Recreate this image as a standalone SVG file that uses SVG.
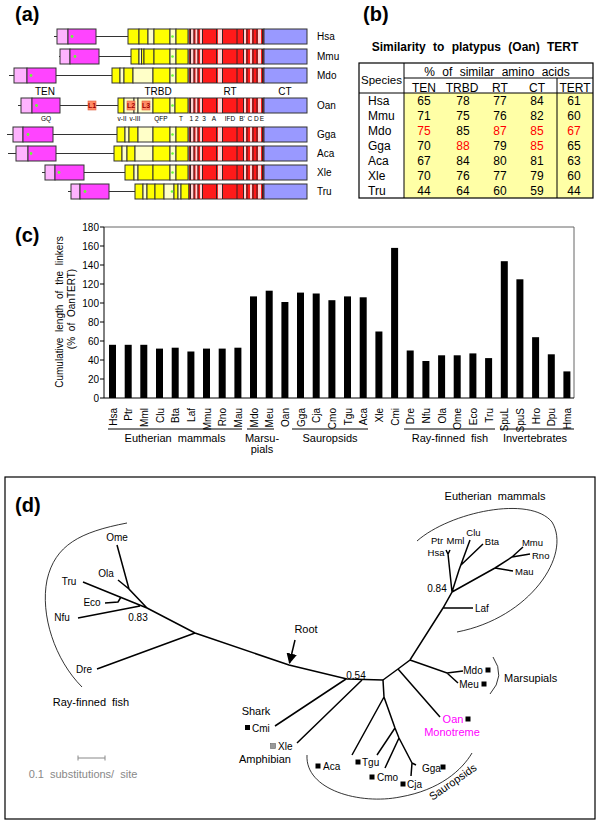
<svg xmlns="http://www.w3.org/2000/svg" xmlns:xlink="http://www.w3.org/1999/xlink" width="600" height="826" viewBox="0 0 600 826">
<style>
text{font-family:"Liberation Sans",Arial,sans-serif;fill:#000}
.pl{font-size:20px;font-weight:bold}
.ln{stroke:#333;stroke-width:1.2;fill:none}
.lp{fill:#ffb3ff;stroke:#333;stroke-width:1}
.mg{fill:#ff44ff;stroke:#333;stroke-width:1}
.gd{fill:#66ff33}
.ye{fill:#ffff00;stroke:#333;stroke-width:1}
.py{fill:#ffffc8;stroke:#333;stroke-width:1}
.bl{fill:#9999ff;stroke:#333;stroke-width:1}
.rl{font-size:10px}
.dl{font-size:10px}
.sl{font-size:6.5px}
.lk{fill:#ff8c66;stroke:#e06040;stroke-width:0.6}
.lkt{font-size:7px;font-weight:bold;fill:#a00000}
.tb{font-size:12px}
.red{fill:#ff0000}
.ax{stroke:#000;stroke-width:1;fill:none}
.fr{stroke:#666;stroke-width:1;fill:none}
.tk{font-size:10px;text-anchor:end}
.xl{font-size:10px;text-anchor:end}
.gl{font-size:11px;text-anchor:middle;word-spacing:3px}
.br{stroke:#000;stroke-width:1.5;fill:none}
.cv{stroke:#000;stroke-width:0.8;fill:none}
.lf{font-size:10px}
.sm{font-size:9.5px}
.sq{fill:#000}
</style>
<defs>
<g id="rt">
<rect x="189" y="0" width="75" height="15" fill="#ff1a1a" stroke="#333"/>
<rect x="191" y="0.5" width="2.5" height="14" fill="#ffd5d5"/>
<rect x="195.5" y="0.5" width="2" height="14" fill="#ffd5d5"/>
<rect x="200" y="0.5" width="2" height="14" fill="#ffd5d5"/>
<rect x="218" y="0.5" width="4" height="14" fill="#ffd5d5"/>
<rect x="244" y="0.5" width="2" height="14" fill="#ffd5d5"/>
<rect x="250" y="0.5" width="2" height="14" fill="#ffd5d5"/>
<rect x="258" y="0.5" width="3" height="14" fill="#ffd5d5"/>
<path d="M190.5,0V15M194,0V15M198,0V15M202.5,0V15M216.5,0V15M222.5,0V15M237,0V15M243.5,0V15M247,0V15M253,0V15M257,0V15M262.5,0V15" stroke="#222" stroke-width="0.9"/>
</g>
<marker id="ah" viewBox="0 0 10 10" refX="9" refY="5" markerWidth="7" markerHeight="7" orient="auto">
<path d="M0,0L10,5L0,10z" fill="#000"/>
</marker>
</defs>
<rect width="600" height="826" fill="#fff"/>

<!-- Panel (a) -->
<g id="panel-a">
<text class="pl" x="15" y="21">(a)</text>
<g id="row-hsa">
<line class="ln" x1="54" y1="36.5" x2="128" y2="36.5"/>
<rect class="lp" x="57" y="29" width="11" height="15"/><rect class="mg" x="68" y="29" width="28" height="15"/><circle class="gd" cx="72" cy="36.5" r="1.4"/>
<rect class="ye" x="128" y="29" width="11" height="15"/><rect class="ye" x="139" y="29" width="9" height="15"/><rect class="py" x="148" y="29" width="6" height="15"/><rect class="ye" x="154" y="29" width="16" height="15"/><rect class="py" x="170" y="29" width="6" height="15"/><rect class="ye" x="176" y="29" width="12" height="15"/><circle class="gd" cx="172.5" cy="36.5" r="1.3"/>
<use xlink:href="#rt" y="29"/><rect class="bl" x="264" y="29" width="43" height="15"/>
<text class="rl" x="317" y="40">Hsa</text>
</g>
<g id="row-mmu">
<line class="ln" x1="59" y1="56.5" x2="131" y2="56.5"/>
<rect class="lp" x="60" y="49" width="10" height="15"/><rect class="mg" x="70" y="49" width="29" height="15"/><circle class="gd" cx="75" cy="56.5" r="1.4"/>
<rect class="ye" x="131" y="49" width="8" height="15"/><rect class="py" x="139" y="49" width="2.5" height="15"/><rect class="ye" x="141.5" y="49" width="2.5" height="15"/><rect class="ye" x="144" y="49" width="10" height="15"/><rect class="ye" x="154" y="49" width="16" height="15"/><rect class="py" x="170" y="49" width="6" height="15"/><rect class="ye" x="176" y="49" width="12" height="15"/><circle class="gd" cx="172.5" cy="56.5" r="1.3"/>
<use xlink:href="#rt" y="49"/><rect class="bl" x="264" y="49" width="43" height="15"/>
<text class="rl" x="317" y="60">Mmu</text>
</g>
<g id="row-mdo">
<line class="ln" x1="9" y1="75.5" x2="112" y2="75.5"/>
<rect class="lp" x="14" y="68" width="13" height="15"/><rect class="mg" x="27" y="68" width="29" height="15"/><circle class="gd" cx="31" cy="75.5" r="1.4"/>
<rect class="ye" x="112" y="68" width="8" height="15"/><rect class="py" x="120" y="68" width="4" height="15"/><rect class="ye" x="124" y="68" width="9" height="15"/><rect class="py" x="133" y="68" width="20" height="15"/><rect class="ye" x="153" y="68" width="17" height="15"/><rect class="py" x="170" y="68" width="6" height="15"/><rect class="ye" x="176" y="68" width="12" height="15"/><circle class="gd" cx="172.5" cy="75.5" r="1.3"/>
<use xlink:href="#rt" y="68"/><rect class="bl" x="264" y="68" width="43" height="15"/>
<text class="rl" x="317" y="79">Mdo</text>
</g>
<g id="domain-labels">
<text class="dl" x="45" y="95" text-anchor="middle">TEN</text>
<text class="dl" x="158" y="95" text-anchor="middle">TRBD</text>
<text class="dl" x="230" y="95" text-anchor="middle">RT</text>
<text class="dl" x="285" y="95" text-anchor="middle">CT</text>
</g>
<g id="row-oan">
<line class="ln" x1="18" y1="105.5" x2="118" y2="105.5"/>
<rect class="lp" x="21" y="98" width="11" height="15"/><rect class="mg" x="32" y="98" width="28" height="15"/><circle class="gd" cx="36.5" cy="105.5" r="1.4"/>
<rect class="lk" x="88" y="101" width="8" height="9"/><text class="lkt" x="92" y="108.3" text-anchor="middle">L1</text>
<rect class="ye" x="118" y="98" width="6" height="15"/><rect class="py" x="124" y="98" width="10" height="15"/><rect class="py" x="134" y="98" width="4" height="15"/><rect class="py" x="138" y="98" width="15" height="15"/><rect class="ye" x="153" y="98" width="17" height="15"/><rect class="py" x="170" y="98" width="5" height="15"/><rect class="ye" x="175" y="98" width="13" height="15"/><circle class="gd" cx="172.5" cy="105.5" r="1.3"/>
<rect class="lk" x="127" y="101" width="8" height="9"/><text class="lkt" x="131" y="108.3" text-anchor="middle">L2</text>
<rect class="lk" x="142" y="101" width="8" height="9"/><text class="lkt" x="146" y="108.3" text-anchor="middle">L3</text>
<use xlink:href="#rt" y="98"/><rect class="bl" x="264" y="98" width="43" height="15"/>
<text class="rl" x="317" y="109">Oan</text>
<text class="sl" x="46" y="121" text-anchor="middle">GQ</text>
<text class="sl" x="122" y="121" text-anchor="middle">v-II</text>
<text class="sl" x="135" y="121" text-anchor="middle">v-III</text>
<text class="sl" x="161" y="121" text-anchor="middle">QFP</text>
<text class="sl" x="181" y="121" text-anchor="middle">T</text>
<text class="sl" x="194" y="121" text-anchor="middle">1 2</text>
<text class="sl" x="204" y="121" text-anchor="middle">3</text>
<text class="sl" x="214" y="121" text-anchor="middle">A</text>
<text class="sl" x="230" y="121" text-anchor="middle">IFD</text>
<text class="sl" x="242" y="121" text-anchor="middle">B'</text>
<text class="sl" x="253" y="121" text-anchor="middle">C D</text>
<text class="sl" x="262" y="121" text-anchor="middle">E</text>
</g>
<g id="row-gga">
<line class="ln" x1="7" y1="134.5" x2="117" y2="134.5"/>
<rect class="lp" x="13" y="127" width="10" height="15"/><rect class="mg" x="23" y="127" width="30" height="15"/><circle class="gd" cx="28" cy="134.5" r="1.4"/>
<rect class="ye" x="117" y="127" width="8" height="15"/><rect class="py" x="125" y="127" width="4" height="15"/><rect class="ye" x="129" y="127" width="9" height="15"/><rect class="py" x="138" y="127" width="15" height="15"/><rect class="ye" x="153" y="127" width="17" height="15"/><rect class="py" x="170" y="127" width="6" height="15"/><rect class="ye" x="176" y="127" width="12" height="15"/><circle class="gd" cx="172.5" cy="134.5" r="1.3"/>
<use xlink:href="#rt" y="127"/><rect class="bl" x="264" y="127" width="43" height="15"/>
<text class="rl" x="317" y="138">Gga</text>
</g>
<g id="row-aca">
<line class="ln" x1="8" y1="153.5" x2="114" y2="153.5"/>
<rect class="lp" x="16" y="146" width="12" height="15"/><rect class="mg" x="28" y="146" width="28" height="15"/><circle class="gd" cx="31" cy="153.5" r="1.4"/>
<rect class="ye" x="114" y="146" width="8" height="15"/><rect class="py" x="122" y="146" width="5" height="15"/><rect class="ye" x="127" y="146" width="8" height="15"/><rect class="py" x="135" y="146" width="18" height="15"/><rect class="ye" x="153" y="146" width="17" height="15"/><rect class="py" x="170" y="146" width="6" height="15"/><rect class="ye" x="176" y="146" width="12" height="15"/><circle class="gd" cx="172.5" cy="153.5" r="1.3"/>
<use xlink:href="#rt" y="146"/><rect class="bl" x="264" y="146" width="43" height="15"/>
<text class="rl" x="317" y="157">Aca</text>
</g>
<g id="row-xle">
<line class="ln" x1="42" y1="172.5" x2="125" y2="172.5"/>
<rect class="lp" x="45" y="165" width="10" height="15"/><rect class="mg" x="55" y="165" width="29" height="15"/><circle class="gd" cx="59" cy="172.5" r="1.4"/>
<rect class="ye" x="125" y="165" width="9" height="15"/><rect class="py" x="134" y="165" width="4" height="15"/><rect class="ye" x="138" y="165" width="15" height="15"/><rect class="ye" x="153" y="165" width="17" height="15"/><rect class="py" x="170" y="165" width="6" height="15"/><rect class="ye" x="176" y="165" width="12" height="15"/><circle class="gd" cx="172.5" cy="172.5" r="1.3"/>
<use xlink:href="#rt" y="165"/><rect class="bl" x="264" y="165" width="43" height="15"/>
<text class="rl" x="317" y="176">Xle</text>
</g>
<g id="row-tru">
<line class="ln" x1="68" y1="191.5" x2="135" y2="191.5"/>
<rect class="lp" x="71" y="184" width="9" height="15"/><rect class="mg" x="80" y="184" width="29" height="15"/><circle class="gd" cx="85" cy="191.5" r="1.4"/>
<rect class="ye" x="135" y="184" width="8" height="15"/><rect class="py" x="143" y="184" width="4" height="15"/><rect class="ye" x="147" y="184" width="8" height="15"/><rect class="ye" x="155" y="184" width="9" height="15"/><rect class="py" x="164" y="184" width="10" height="15"/><rect class="ye" x="174" y="184" width="4" height="15"/><rect class="py" x="178" y="184" width="3" height="15"/><rect class="ye" x="181" y="184" width="8" height="15"/><circle class="gd" cx="172" cy="191.5" r="1.3"/>
<use xlink:href="#rt" y="184"/><rect class="bl" x="264" y="184" width="43" height="15"/>
<text class="rl" x="317" y="195">Tru</text>
</g>
</g>

<!-- Panel (b) -->
<g id="panel-b">
<text class="pl" x="363" y="21">(b)</text>
<text x="475" y="51" text-anchor="middle" font-size="12" font-weight="bold" word-spacing="4">Similarity to platypus (Oan) TERT</text>
<rect x="404" y="93" width="189" height="105" fill="#ffffa6"/>
<rect x="359" y="63" width="234" height="135" fill="none" stroke="#000" stroke-width="1.2"/>
<path d="M404,63V198M404,78H593M359,93H593M557,78V198" stroke="#000" stroke-width="1" fill="none"/>
<text x="381.5" y="84" text-anchor="middle" font-size="11.5">Species</text>
<text class="tb" x="497" y="76" text-anchor="middle" word-spacing="4">% of similar amino acids</text>
<g id="head-b">
<text class="tb" x="424" y="91.5" text-anchor="middle">TEN</text>
<text class="tb" x="462" y="91.5" text-anchor="middle">TRBD</text>
<text class="tb" x="500" y="91.5" text-anchor="middle">RT</text>
<text class="tb" x="537" y="91.5" text-anchor="middle">CT</text>
<text class="tb" x="575" y="91.5" text-anchor="middle">TERT</text>
</g>
<g id="rows-b">
<text class="tb" x="368" y="105">Hsa</text><text class="tb" x="368" y="120">Mmu</text><text class="tb" x="368" y="135">Mdo</text><text class="tb" x="368" y="150">Gga</text><text class="tb" x="368" y="165">Aca</text><text class="tb" x="368" y="180">Xle</text><text class="tb" x="368" y="195">Tru</text>
</g>
<g id="vals-b" text-anchor="middle">
<text class="tb" x="424" y="105">65</text><text class="tb" x="463" y="105">78</text><text class="tb" x="500" y="105">77</text><text class="tb" x="537" y="105">84</text><text class="tb" x="574" y="105">61</text>
<text class="tb" x="424" y="120">71</text><text class="tb" x="463" y="120">75</text><text class="tb" x="500" y="120">76</text><text class="tb" x="537" y="120">82</text><text class="tb" x="574" y="120">60</text>
<text class="tb red" x="424" y="135">75</text><text class="tb" x="463" y="135">85</text><text class="tb red" x="500" y="135">87</text><text class="tb red" x="537" y="135">85</text><text class="tb red" x="574" y="135">67</text>
<text class="tb" x="424" y="150">70</text><text class="tb red" x="463" y="150">88</text><text class="tb" x="500" y="150">79</text><text class="tb red" x="537" y="150">85</text><text class="tb" x="574" y="150">65</text>
<text class="tb" x="424" y="165">67</text><text class="tb" x="463" y="165">84</text><text class="tb" x="500" y="165">80</text><text class="tb" x="537" y="165">81</text><text class="tb" x="574" y="165">63</text>
<text class="tb" x="424" y="180">70</text><text class="tb" x="463" y="180">76</text><text class="tb" x="500" y="180">77</text><text class="tb" x="537" y="180">79</text><text class="tb" x="574" y="180">60</text>
<text class="tb" x="424" y="195">44</text><text class="tb" x="463" y="195">64</text><text class="tb" x="500" y="195">60</text><text class="tb" x="537" y="195">59</text><text class="tb" x="574" y="195">44</text>
</g>
</g>

<!-- Panel (c) -->
<g id="panel-c">
<text class="pl" x="15" y="242">(c)</text>
<path class="fr" d="M104,227H574V398"/>
<path class="ax" d="M104,227V398H574"/>
<path class="ax" d="M100,227H104M100,246H104M100,265H104M100,284H104M100,303H104M100,322H104M100,341H104M100,360H104M100,379H104M100,398H104"/>
<g id="yticks">
<text class="tk" x="99" y="230.5">180</text><text class="tk" x="99" y="249.5">160</text><text class="tk" x="99" y="268.5">140</text><text class="tk" x="99" y="287.5">120</text><text class="tk" x="99" y="306.5">100</text><text class="tk" x="99" y="325.5">80</text><text class="tk" x="99" y="344.5">60</text><text class="tk" x="99" y="363.5">40</text><text class="tk" x="99" y="382.5">20</text><text class="tk" x="99" y="401.5">0</text>
</g>
<text font-size="10" text-anchor="middle" word-spacing="3" transform="translate(63,312) rotate(-90)">Cumulative length of the linkers</text>
<text font-size="10" text-anchor="middle" word-spacing="3" transform="translate(74.5,309) rotate(-90)">(% of OanTERT)</text>
<g id="bars" fill="#000">
<rect x="109" y="344.8" width="7" height="53.2"/>
<rect x="124.7" y="344.8" width="7" height="53.2"/>
<rect x="140.3" y="344.8" width="7" height="53.2"/>
<rect x="156" y="348.6" width="7" height="49.4"/>
<rect x="171.7" y="347.7" width="7" height="50.3"/>
<rect x="187.4" y="351.5" width="7" height="46.5"/>
<rect x="203" y="348.6" width="7" height="49.4"/>
<rect x="218.7" y="348.6" width="7" height="49.4"/>
<rect x="234.4" y="347.7" width="7" height="50.3"/>
<rect x="250" y="296.4" width="7" height="101.6"/>
<rect x="265.7" y="290.7" width="7" height="107.3"/>
<rect x="281.4" y="302" width="7" height="96"/>
<rect x="297" y="292.6" width="7" height="105.4"/>
<rect x="312.7" y="293.5" width="7" height="104.5"/>
<rect x="328.4" y="300.2" width="7" height="97.8"/>
<rect x="344" y="296.4" width="7" height="101.6"/>
<rect x="359.7" y="297.3" width="7" height="100.7"/>
<rect x="375.4" y="331.5" width="7" height="66.5"/>
<rect x="391.1" y="247.9" width="7" height="150.1"/>
<rect x="406.7" y="350.5" width="7" height="47.5"/>
<rect x="422.4" y="361" width="7" height="37"/>
<rect x="438.1" y="355.3" width="7" height="42.7"/>
<rect x="453.7" y="355.3" width="7" height="42.7"/>
<rect x="469.4" y="353.4" width="7" height="44.6"/>
<rect x="485.1" y="358.1" width="7" height="39.9"/>
<rect x="500.8" y="261.2" width="7" height="136.8"/>
<rect x="516.4" y="279.3" width="7" height="118.7"/>
<rect x="532.1" y="337.2" width="7" height="60.8"/>
<rect x="547.8" y="354.3" width="7" height="43.7"/>
<rect x="563.4" y="371.4" width="7" height="26.6"/>
</g>
<g id="xlabels">
<text class="xl" transform="translate(116.5,408) rotate(-90)">Hsa</text>
<text class="xl" transform="translate(132.2,408) rotate(-90)">Ptr</text>
<text class="xl" transform="translate(147.8,408) rotate(-90)">Mml</text>
<text class="xl" transform="translate(163.5,408) rotate(-90)">Clu</text>
<text class="xl" transform="translate(179.2,408) rotate(-90)">Bta</text>
<text class="xl" transform="translate(194.9,408) rotate(-90)">Laf</text>
<text class="xl" transform="translate(210.5,408) rotate(-90)">Mmu</text>
<text class="xl" transform="translate(226.2,408) rotate(-90)">Rno</text>
<text class="xl" transform="translate(241.9,408) rotate(-90)">Mau</text>
<text class="xl" transform="translate(257.5,408) rotate(-90)">Mdo</text>
<text class="xl" transform="translate(273.2,408) rotate(-90)">Meu</text>
<text class="xl" transform="translate(288.9,408) rotate(-90)">Oan</text>
<text class="xl" transform="translate(304.5,408) rotate(-90)">Gga</text>
<text class="xl" transform="translate(320.2,408) rotate(-90)">Cja</text>
<text class="xl" transform="translate(335.9,408) rotate(-90)">Cmo</text>
<text class="xl" transform="translate(351.6,408) rotate(-90)">Tgu</text>
<text class="xl" transform="translate(367.2,408) rotate(-90)">Aca</text>
<text class="xl" transform="translate(382.9,408) rotate(-90)">Xle</text>
<text class="xl" transform="translate(398.6,408) rotate(-90)">Cmi</text>
<text class="xl" transform="translate(414.2,408) rotate(-90)">Dre</text>
<text class="xl" transform="translate(429.9,408) rotate(-90)">Nfu</text>
<text class="xl" transform="translate(445.6,408) rotate(-90)">Ola</text>
<text class="xl" transform="translate(461.2,408) rotate(-90)">Ome</text>
<text class="xl" transform="translate(476.9,408) rotate(-90)">Eco</text>
<text class="xl" transform="translate(492.6,408) rotate(-90)">Tru</text>
<text class="xl" transform="translate(508.3,408) rotate(-90)">SpuL</text>
<text class="xl" transform="translate(523.9,408) rotate(-90)">SpuS</text>
<text class="xl" transform="translate(539.6,408) rotate(-90)">Hro</text>
<text class="xl" transform="translate(555.3,408) rotate(-90)">Dpu</text>
<text class="xl" transform="translate(570.9,408) rotate(-90)">Hma</text>
</g>
<path class="ax" d="M108,429H242M247,429H274M292,429H368M404,429H495M500,429H574"/>
<text class="gl" x="175" y="442">Eutherian mammals</text>
<text class="gl" x="262" y="442">Marsu-</text>
<text class="gl" x="262" y="453">pials</text>
<text class="gl" x="330" y="442">Sauropsids</text>
<text class="gl" x="450" y="442">Ray-finned fish</text>
<text class="gl" x="535" y="442">Invertebrates</text>
</g>

<!-- Panel (d) -->
<g id="panel-d">
<rect x="5" y="477" width="590" height="342" fill="none" stroke="#000" stroke-width="1.2"/>
<text class="pl" x="15" y="512">(d)</text>
<g id="connectors">
<path class="br" d="M117,545L129,589L147,608M118,580L129,589M83,582L147,608M105,603L118,602L121,597M78,618L140,606M147,608L195,633L289,665L347,679L383,680M97,669L195,633"/>
<path class="br" d="M275,726L346,679M297,743L362,680M383,680L384,697L395,728L399,738L412,763M352,755L384,697M377,755L395,728M385,768L399,738M412,763L416,765M412,763L411,776"/>
<path class="br" d="M383,680L398,669L410,660L443,608L452,592L448,554M446,550L448,554L450,550M452,592L459,570L470,540M461,565L483,544M398,669L440,717M410,660L447,673L463,671M447,673L458,683M443,608L473,608M452,592L495,568L512,557L523,547M512,557L530,554M495,568L513,571"/>
<line x1="295" y1="640" x2="289.5" y2="663" stroke="#000" stroke-width="1.5" marker-end="url(#ah)"/>
<path class="cv" d="M127,523C80,532 55,545 47,580C40,615 55,660 82,687"/>
<path class="cv" d="M417,541C450,512 530,495 552,522C572,555 530,618 457,632"/>
<path class="cv" d="M493,657Q506,676 490,694"/>
<path class="cv" d="M307,755C305,790 360,805 400,797C440,790 462,770 472,753"/>
</g>
<g id="leaf-ome"><text class="lf" x="117" y="541" text-anchor="middle">Ome</text></g>
<g id="leaf-ola"><text class="lf" x="106" y="577" text-anchor="middle">Ola</text></g>
<g id="leaf-tru"><text class="lf" x="69" y="585" text-anchor="middle">Tru</text></g>
<g id="leaf-eco"><text class="lf" x="92" y="606" text-anchor="middle">Eco</text></g>
<g id="leaf-nfu"><text class="lf" x="62" y="621" text-anchor="middle">Nfu</text></g>
<g id="leaf-dre"><text class="lf" x="84" y="673" text-anchor="middle">Dre</text></g>
<text class="lf" x="138" y="621" text-anchor="middle">0.83</text>
<text x="91" y="706" font-size="11" text-anchor="middle" word-spacing="3">Ray-finned fish</text>
<g id="scale">
<path d="M78,758H105M78,755.5V760.5M105,755.5V760.5" stroke="#888" stroke-width="1" fill="none"/>
<text x="83" y="778" font-size="11" text-anchor="middle" style="fill:#888" word-spacing="3">0.1 substitutions/ site</text>
</g>
<g id="root"><text x="306" y="633" text-anchor="middle" font-size="11">Root</text></g>
<text class="lf" x="356" y="679" text-anchor="middle">0.54</text>
<g id="leaf-cmi"><text x="256" y="715" font-size="11" text-anchor="middle">Shark</text><rect class="sq" x="245" y="725" width="5" height="5"/><text class="lf" x="252" y="731.5">Cmi</text></g>
<g id="leaf-xle"><rect x="270.5" y="743.5" width="5" height="5" fill="#999" stroke="#666" stroke-width="0.6"/><text class="lf" x="278" y="750">Xle</text><text x="265" y="763" font-size="11" text-anchor="middle">Amphibian</text></g>
<g id="leaf-aca"><rect class="sq" x="315.5" y="763.5" width="5" height="5"/><text class="lf" x="323" y="770">Aca</text></g>
<g id="leaf-tgu"><rect class="sq" x="355.5" y="759.5" width="5" height="5"/><text class="lf" x="362" y="766">Tgu</text></g>
<g id="leaf-cmo"><rect class="sq" x="369.5" y="774.5" width="5" height="5"/><text class="lf" x="377" y="781">Cmo</text></g>
<g id="leaf-cja"><rect class="sq" x="400.5" y="781.5" width="5" height="5"/><text class="lf" x="407" y="788">Cja</text></g>
<g id="leaf-gga"><text class="lf" x="422" y="772">Gga</text><rect class="sq" x="440.5" y="764.5" width="5" height="5"/></g>
<text x="455" y="785" font-size="11" text-anchor="middle" transform="rotate(-35,455,785)">Sauropsids</text>
<g id="leaf-oan"><text x="453" y="723" font-size="11" text-anchor="middle" style="fill:#ff00ff">Oan</text><rect class="sq" x="465.5" y="716.5" width="5" height="5"/><text x="452" y="736" font-size="11" text-anchor="middle" style="fill:#ff00ff">Monotreme</text></g>
<g id="leaf-mdo"><text class="lf" x="473" y="673.5" text-anchor="middle">Mdo</text><rect class="sq" x="485.5" y="667.5" width="5" height="5"/></g>
<g id="leaf-meu"><text class="lf" x="469" y="687.5" text-anchor="middle">Meu</text><rect class="sq" x="481.5" y="681.5" width="5" height="5"/></g>
<text x="504" y="682" font-size="11">Marsupials</text>
<g id="leaf-laf"><text class="lf" x="475" y="611.5">Laf</text></g>
<text class="lf" x="437" y="592" text-anchor="middle">0.84</text>
<g id="leaf-ptr"><text class="sm" x="437" y="544" text-anchor="middle">Ptr</text></g>
<g id="leaf-hsa"><text class="sm" x="436" y="555.8" text-anchor="middle">Hsa</text></g>
<g id="leaf-mml"><text class="sm" x="455.5" y="544" text-anchor="middle">Mml</text></g>
<g id="leaf-clu"><text class="sm" x="473.5" y="536" text-anchor="middle">Clu</text></g>
<g id="leaf-bta"><text class="sm" x="492" y="545" text-anchor="middle">Bta</text></g>
<g id="leaf-mmu"><text class="sm" x="532.5" y="546" text-anchor="middle">Mmu</text></g>
<g id="leaf-rno"><text class="sm" x="532" y="558.5">Rno</text></g>
<g id="leaf-mau"><text class="sm" x="515" y="574.5">Mau</text></g>
<text x="495" y="500" font-size="11" text-anchor="middle" word-spacing="3">Eutherian mammals</text>
</g>
</svg>
